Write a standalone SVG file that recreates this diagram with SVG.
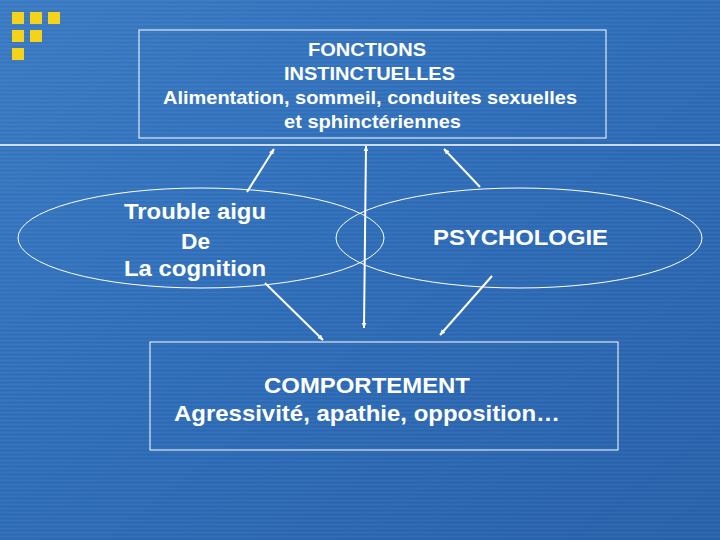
<svg xmlns="http://www.w3.org/2000/svg" width="720" height="540" viewBox="0 0 720 540">
<defs>
<linearGradient id="bg" x1="0" y1="0" x2="1" y2="1">
<stop offset="0" stop-color="#3b7cc4"/>
<stop offset="0.5" stop-color="#2f6db8"/>
<stop offset="1" stop-color="#2a62ab"/>
</linearGradient>
<pattern id="streak" width="720" height="4" patternUnits="userSpaceOnUse">
<rect x="0" y="0" width="720" height="1" fill="#ffffff" fill-opacity="0.04"/>
<rect x="0" y="2" width="720" height="1" fill="#000000" fill-opacity="0.03"/>
</pattern>
<marker id="ah" viewBox="0 0 10 10" refX="9" refY="5" markerWidth="6" markerHeight="6" orient="auto-start-reverse" markerUnits="userSpaceOnUse">
<path d="M0,1 L10,5 L0,9 z" fill="#ffffff"/>
</marker>
<style>
.box{fill:none;stroke:#ffffff;stroke-width:1}
.ell{fill:none;stroke:#ffffff;stroke-width:1}
.t{fill:#ffffff;font-family:"Liberation Sans",Arial,sans-serif;text-anchor:middle;font-weight:bold}
.tb{font-size:19px}
.tl{font-size:22px}
.sq{fill:#f5d31a}
.conn line{stroke:#ffffff;stroke-width:2;marker-end:url(#ah)}
</style>
</defs>
<rect width="720" height="540" fill="url(#bg)"/>
<rect width="720" height="540" fill="url(#streak)"/>
<g id="logo">
<rect class="sq" x="12" y="12" width="12" height="12"/>
<rect class="sq" x="30" y="12" width="12" height="12"/>
<rect class="sq" x="48" y="12" width="12" height="12"/>
<rect class="sq" x="12" y="30" width="12" height="12"/>
<rect class="sq" x="30" y="30" width="12" height="12"/>
<rect class="sq" x="12" y="48" width="12" height="12"/>
</g>
<line x1="0" y1="145" x2="720" y2="145" stroke="#ffffff" stroke-width="1.5"/>
<g id="fonctions">
<rect class="box" x="139" y="30" width="467" height="108"/>
<text class="t tb" x="367" y="56" textLength="118" lengthAdjust="spacingAndGlyphs">FONCTIONS</text>
<text class="t tb" x="369.5" y="80" textLength="171" lengthAdjust="spacingAndGlyphs">INSTINCTUELLES</text>
<text class="t tb" x="370" y="104" textLength="414" lengthAdjust="spacingAndGlyphs">Alimentation, sommeil, conduites sexuelles</text>
<text class="t tb" x="372.5" y="128" textLength="177" lengthAdjust="spacingAndGlyphs">et sphinctériennes</text>
</g>
<g id="cognition">
<ellipse class="ell" cx="201" cy="238" rx="183" ry="50"/>
<text class="t tl" x="195" y="219" textLength="142" lengthAdjust="spacingAndGlyphs">Trouble aigu</text>
<text class="t tl" x="195.5" y="249" textLength="29" lengthAdjust="spacingAndGlyphs">De</text>
<text class="t tl" x="195" y="276" textLength="142" lengthAdjust="spacingAndGlyphs">La cognition</text>
</g>
<g id="psychologie">
<ellipse class="ell" cx="519" cy="238" rx="183" ry="50"/>
<text class="t tl" x="520.5" y="245" textLength="175" lengthAdjust="spacingAndGlyphs">PSYCHOLOGIE</text>
</g>
<g id="comportement">
<rect class="box" x="150" y="342" width="468" height="108"/>
<text class="t tl" x="367" y="393" textLength="206" lengthAdjust="spacingAndGlyphs">COMPORTEMENT</text>
<text class="t tl" x="367" y="421" textLength="386" lengthAdjust="spacingAndGlyphs">Agressivité, apathie, opposition…</text>
</g>
<g class="conn" id="connectors">
<line x1="247" y1="192" x2="274" y2="149"/>
<line x1="364" y1="328" x2="366" y2="146" style="marker-start:url(#ah)"/>
<line x1="480" y1="187" x2="444" y2="149"/>
<line x1="265" y1="283" x2="323" y2="340"/>
<line x1="492" y1="276" x2="440" y2="335"/>
</g>
</svg>
